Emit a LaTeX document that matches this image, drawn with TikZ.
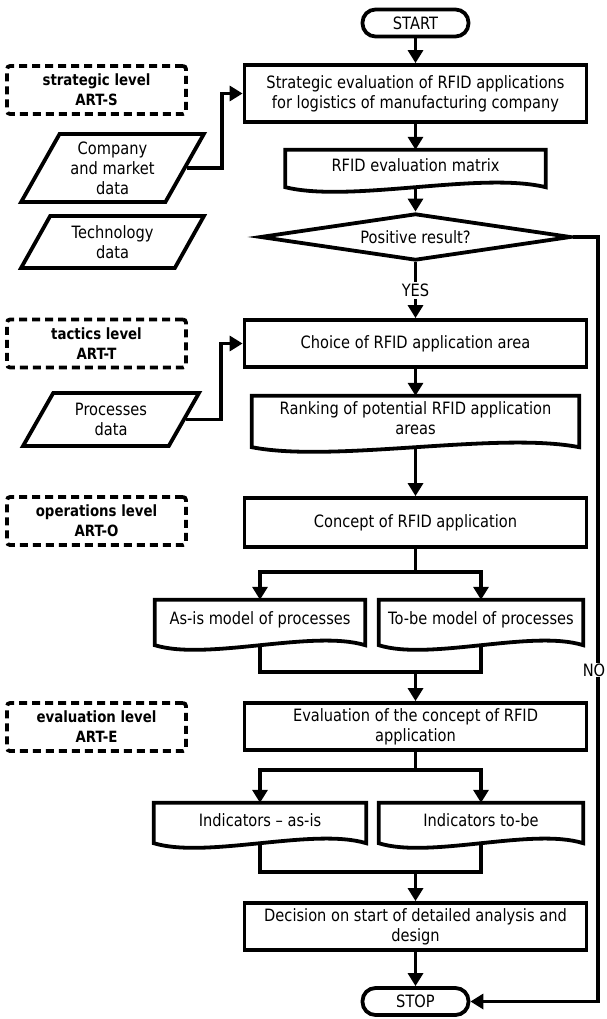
\documentclass[tikz,border=0pt]{standalone}
\usepackage{fontspec}
\setmainfont{DejaVu Sans}[FakeStretch=0.86]
\usetikzlibrary{shapes.geometric,arrows.meta,calc}
\tikzset{
  fc/.style={line width=3.8pt},
  arr/.style={fc,-{Triangle[length=13pt,width=15pt]}},
  box/.style={fc,draw,align=center,minimum width=342pt,minimum height=47pt,inner sep=0pt},
  doc/.style={align=center,inner sep=0pt},
  lvl/.style={fc,draw,dash pattern=on 8pt off 5pt,rounded corners=3pt,align=center,
    minimum width=179pt,minimum height=48pt,inner sep=0pt,font=\bfseries\fontsize{15.5}{20}\selectfont},
  io/.style={fc,draw,trapezium,trapezium left angle=60,trapezium right angle=120,
    trapezium stretches=true,align=center,inner sep=0pt},
  term/.style={fc,draw,rounded corners=13pt,minimum width=106pt,minimum height=27pt,inner sep=0pt}
}
\begin{document}
\begin{tikzpicture}[x=1pt,y=-1pt,font=\fontsize{17}{20}\selectfont,line join=miter]
\useasboundingbox (0,0) rectangle (606,1019);
\node[term] (start) at (415.5,23) {START};
\node[box,minimum height=57pt] (s1) at (415.5,93.5) {Strategic evaluation of RFID applications\\for logistics of manufacturing company};
\node[lvl] (lvS) at (96.5,90) {strategic level\\ART-S};
\node[io,minimum width=183pt,minimum height=68pt] (comp) at (112.5,168) {Company\\and market\\data};
\node[io,minimum width=183pt,minimum height=52pt] (tech) at (112.5,242) {Technology\\data};
\node[doc,minimum width=260pt,minimum height=31pt] (mat) at (415.5,165.5) {RFID evaluation matrix};
\node[fc,draw,diamond,aspect=6.6,minimum width=311pt,minimum height=47pt,inner sep=0pt] (dec) at (415.5,237) {Positive result?};
\node[box] (ch) at (415.5,343.5) {Choice of RFID application area};
\node[lvl] (lvT) at (96.5,343.5) {tactics level\\ART-T};
\node[io,minimum width=176pt,minimum height=53pt] (proc) at (111,419.5) {Processes\\data};
\node[doc,minimum width=327pt,minimum height=45pt] (rank) at (415.5,418.5) {Ranking of potential RFID application\\areas};
\node[box,minimum height=49pt] (con) at (415.5,522.5) {Concept of RFID application};
\node[lvl] (lvO) at (96.5,521) {operations level\\ART-O};
\node[doc,minimum width=210pt,minimum height=39pt] (asis) at (260,619.5) {As-is model of processes};
\node[doc,minimum width=204pt,minimum height=39pt] (tobe) at (481,619.5) {To-be model of processes};
\node[box] (ev) at (415.5,726.5) {Evaluation of the concept of RFID\\application};
\node[lvl] (lvE) at (96.5,727) {evaluation level\\ART-E};
\node[doc,minimum width=212pt,minimum height=34pt] (inas) at (260,820) {Indicators -- as-is};
\node[doc,minimum width=204pt,minimum height=34pt] (intb) at (481,820) {Indicators to-be};
\node[box] (dd) at (415.5,926.5) {Decision on start of detailed analysis and\\design};
\node[term] (stop) at (415.5,1001.5) {STOP};
\foreach \n in {mat,rank,asis,tobe,inas,intb}
  \draw[fc] ([yshift=-6pt]\n.south east) -- (\n.north east) -- (\n.north west) -- ([yshift=-6pt]\n.south west)
    .. controls ($(\n.south west)!.5!(\n.south)+(0,22)$) and ($(\n.south)!.5!(\n.south east)+(0,-10)$)
    .. ([yshift=-6pt]\n.south east) -- cycle;
\coordinate (nc) at (598,237);
\coordinate (j1) at (415.5,572); \coordinate (m1) at (415.5,672);
\coordinate (j2) at (415.5,770); \coordinate (m2) at (415.5,872);
\draw[arr] (start) -- (s1);
\draw[arr] (comp.east) -- ++(35,0) |- (s1.west);
\draw[arr] (s1) -- (mat);
\draw[arr] ([yshift=-6pt]mat.south) -- (dec);
\draw[arr] (dec) -- node[fill=white,inner sep=2pt] (yes) {YES} (ch);
\draw[arr] (dec.east) -- (nc) |- (stop.east);
\node[fill=white,inner sep=1pt] (no) at (594,670) {NO};
\draw[arr] (proc.east) -- ++(35,0) |- (ch.west);
\draw[arr] (ch) -- (rank);
\draw[arr] ([yshift=-6pt]rank.south) -- (con);
\draw[fc] (con) -- (j1);
\draw[arr] (j1) -| (asis); \draw[arr] (j1) -| (tobe);
\draw[fc] ([yshift=-6pt]asis.south) |- (m1) -| ([yshift=-6pt]tobe.south);
\draw[arr] (m1) -- (ev);
\draw[fc] (ev) -- (j2);
\draw[arr] (j2) -| (inas); \draw[arr] (j2) -| (intb);
\draw[fc] ([yshift=-6pt]inas.south) |- (m2) -| ([yshift=-6pt]intb.south);
\draw[arr] (m2) -- (dd);
\draw[arr] (dd) -- (stop);
\end{tikzpicture}
\end{document}
